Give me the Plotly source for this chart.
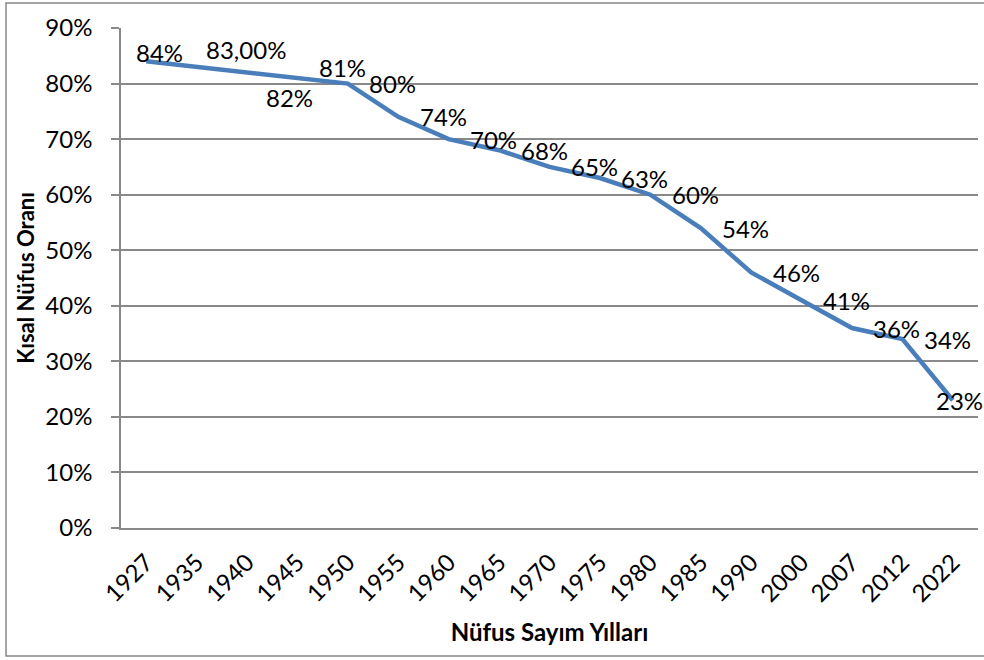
import plotly.graph_objects as go

years = ["1927", "1935", "1940", "1945", "1950", "1955", "1960", "1965", "1970",
         "1975", "1980", "1985", "1990", "2000", "2007", "2012", "2022"]
rural_share = [0.84, 0.83, 0.82, 0.81, 0.80, 0.74, 0.70, 0.68, 0.65,
               0.63, 0.60, 0.54, 0.46, 0.41, 0.36, 0.34, 0.23]
value_labels = ["84%", "83,00%", "82%", "81%", "80%", "74%", "70%", "68%", "65%",
                "63%", "60%", "54%", "46%", "41%", "36%", "34%", "23%"]
y_tick_vals = [0, 0.1, 0.2, 0.3, 0.4, 0.5, 0.6, 0.7, 0.8, 0.9]
y_tick_text = ["0%", "10%", "20%", "30%", "40%", "50%", "60%", "70%", "80%", "90%"]

FONT = "Lato, Carlito, Calibri, sans-serif"
GRID = "#898989"
W, H = 984, 660
ML, MR, MT, MB = 121, 6, 28, 132

fig = go.Figure()
fig.add_trace(go.Scatter(
    x=years, y=rural_share, mode="lines",
    line=dict(color="#4A7EBB", width=4.5),
    hoverinfo="skip", showlegend=False,
))

# label offsets (px) relative to each point: default right of the point
label_shift = {0: (13, 9), 1: (49, 17), 2: (42, -25), 3: (45, 11), 16: (7, 0)}
for i, (v, t) in enumerate(zip(rural_share, value_labels)):
    dx, dy = label_shift.get(i, (45, 0))
    fig.add_annotation(x=i, y=v, text=t, showarrow=False,
                       xshift=dx, yshift=dy, xanchor="center", yanchor="middle",
                       font=dict(family=FONT, size=24, color="#000000"))

fig.update_layout(
    width=W, height=H,
    margin=dict(l=ML, r=MR, t=MT, b=MB, autoexpand=False),
    paper_bgcolor="white", plot_bgcolor="white",
    font=dict(family=FONT, size=24, color="#000000"),
    xaxis=dict(
        type="category", range=[-0.5, len(years) - 0.5],
        showgrid=False, showline=True, linecolor=GRID, linewidth=1.5,
        ticks="", tickangle=-45, ticklabelstandoff=9,
        tickfont=dict(family=FONT, size=24),
        title=dict(text="<b>Nüfus Sayım Yılları</b>", standoff=18,
                   font=dict(family=FONT, size=24)),
        automargin=False, fixedrange=True,
    ),
    yaxis=dict(
        range=[0, 0.9], tickvals=y_tick_vals, ticktext=y_tick_text,
        showgrid=True, gridcolor=GRID, gridwidth=1.5,
        showline=True, linecolor=GRID, linewidth=1.5,
        ticks="outside", ticklen=8, tickcolor=GRID, tickwidth=1.5,
        ticklabelstandoff=14, zeroline=False,
        tickfont=dict(family=FONT, size=24),
        title=dict(text="<b>Kısal Nüfus Oranı</b>", standoff=5,
                   font=dict(family=FONT, size=22)),
        automargin=False, fixedrange=True,
    ),
)

# outer chart border
fig.add_shape(type="rect", xref="paper", yref="paper",
              x0=(6 - ML) / (W - ML - MR), x1=(990 - ML) / (W - ML - MR),
              y0=(H - MB - 656) / (H - MT - MB), y1=(H - MB - 3) / (H - MT - MB),
              line=dict(color="#888888", width=1.5), layer="below")

fig.write_html("out.html", config={"displayModeBar": False},
               post_script="document.body.style.margin='0';")
